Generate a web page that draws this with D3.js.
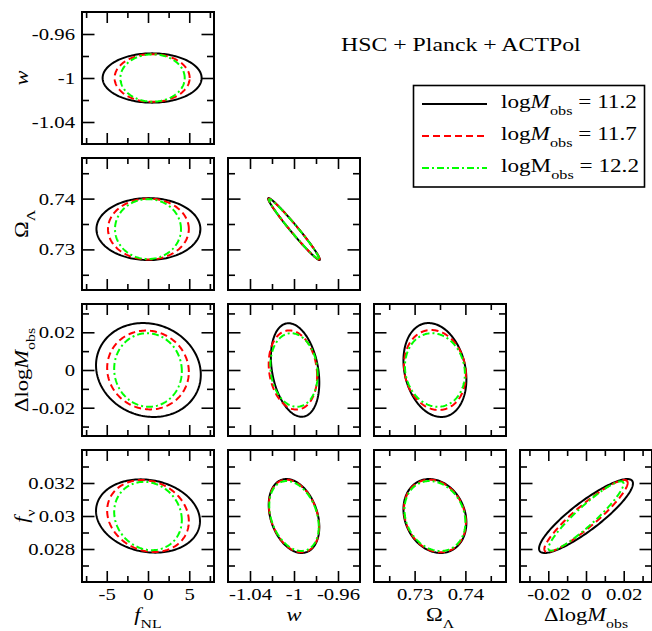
<!DOCTYPE html>
<html>
<head>
<meta charset="utf-8">
<title>HSC + Planck + ACTPol</title>
<script src="https://cdn.jsdelivr.net/npm/d3@7"></script>
<style>
  html, body { margin: 0; padding: 0; background: #fff; }
  svg { display: block; }
  text { font-family: "Liberation Serif", "Times New Roman", serif; fill: #000; }
</style>
</head>
<body>
<svg id="chart" width="652" height="631"></svg>
<script>
// Parameter order: f_NL, w, Omega_Lambda, DeltalogM_obs, f_nu
var paramDomains = [[-8, 8], [-1.06, -0.94], [0.722, 0.748], [-0.035, 0.035], [0.026, 0.034]];
var majorTicks = [[-5, 0, 5], [-1.04, -1, -0.96], [0.73, 0.74], [-0.02, 0, 0.02], [0.028, 0.03, 0.032]];
var minorTicks = [[-7.5, -2.5, 2.5, 7.5], [-1.02, -0.98], [0.725, 0.735, 0.745],
                  [-0.03, -0.01, 0.01, 0.03], [0.027, 0.029, 0.031, 0.033]];
var tickLabels = [['-5', '0', '5'], ['-1.04', '-1', '-0.96'], ['0.73', '0.74'],
                  ['-0.02', '0', '0.02'], ['0.028', '0.03', '0.032']];

// axis titles as [text, style] pieces: i = italic, s = subscript
var axisTitles = [
    [['f', 'i'], ['NL', 's']],
    [['w', 'i']],
    [['\u03a9', ''], ['\u039b', 's']],
    [['\u0394log', ''], ['M', 'i'], ['obs', 's']],
    [['f', 'i'], ['\u03bd', 's']]
];

// triangle panels: [x parameter, y parameter]
var panels = [[0, 1], [0, 2], [1, 2], [0, 3], [1, 3], [2, 3], [0, 4], [1, 4], [2, 4], [3, 4]];

// contours per panel: [x centre, y centre, x half-width, y half-height, correlation]
var ellM112 = [
    [0.5, -1, 6.0, 0.0224, 0],
    [0.05, 0.734, 6.3, 0.0061, 0],
    [-1, 0.734, 0.0235, 0.0061, -0.982],
    [0.05, 0, 6.35, 0.0249, -0.1],
    [-0.999, 0, 0.022, 0.0248, -0.27],
    [0.734, 0, 0.0062, 0.0249, -0.2],
    [0, 0.03, 6.3, 0.00222, -0.14],
    [-1, 0.03, 0.023, 0.00224, -0.3],
    [0.734, 0.03, 0.0062, 0.00224, -0.18],
    [0, 0.03, 0.0249, 0.00224, 0.88]
];
var ellM117 = [
    [0.5, -1, 4.55, 0.0217, 0],
    [0.05, 0.734, 4.9, 0.006, 0],
    [-1, 0.734, 0.0232, 0.006, -0.982],
    [0, 0, 4.95, 0.0209, -0.05],
    [-1.001, 0, 0.022, 0.021, -0.15],
    [0.734, 0, 0.0061, 0.0212, -0.12],
    [0, 0.03, 4.95, 0.00218, -0.15],
    [-1, 0.03, 0.0228, 0.0022, -0.3],
    [0.734, 0.03, 0.0061, 0.0022, -0.18],
    [0, 0.03, 0.0221, 0.00218, 0.92]
];
var ellM122 = [
    [0.55, -1, 3.9, 0.0215, 0],
    [0, 0.734, 4.0, 0.0059, 0],
    [-1, 0.734, 0.0228, 0.0059, -0.982],
    [0, 0, 4.1, 0.0195, -0.03],
    [-1, 0, 0.0215, 0.0195, -0.12],
    [0.734, 0, 0.0059, 0.0195, -0.1],
    [0, 0.03, 4.1, 0.00207, -0.12],
    [-1, 0.03, 0.0225, 0.00212, -0.3],
    [0.734, 0.03, 0.006, 0.00212, -0.18],
    [0, 0.03, 0.0199, 0.0021, 0.93]
];

var seriesValues = ['11.2', '11.7', '12.2'];
var seriesColors = ['#000000', '#ff0000', '#00ff00'];
var seriesDashes = [null, '7,4', '7,3,2,3'];
var seriesItalicM = [true, true, false];
var seriesContours = [ellM112, ellM117, ellM122];

var titleText = 'HSC + Planck + ACTPol';

(function () {
    'use strict';

    var SIZE = 132, PITCH = 146, LEFT = 82, TOP = 12;
    var STRETCH = 1.22;           // the original font is wider than Times
    var V_TICK = [11, 6], H_TICK = [12.5, 7];

    var svg = d3.select('#chart');

    function addParts(text, parts, size) {
        var shift = 0;
        parts.forEach(function (p) {
            var t = text.append('tspan').text(p[0]);
            var want = p[1] === 's' ? size * 0.38 : 0;
            if (want !== shift) {
                t.attr('dy', want - shift);
                shift = want;
            }
            if (p[1] === 's') t.attr('font-size', size * 0.7);
            if (p[1] === 'i') t.attr('font-style', 'italic');
        });
        return text;
    }

    function wideText(parent, x, y, size, anchor, rotate) {
        return parent.append('text')
            .attr('transform', 'translate(' + x + ',' + y + ')' + (rotate ? ' rotate(-90)' : '') +
                  ' scale(' + STRETCH + ',1)')
            .attr('font-size', size)
            .attr('text-anchor', anchor);
    }

    function ellipsePoints(e) {
        var k = Math.sqrt(1 - e[4] * e[4]);
        return d3.range(0, 181).map(function (i) {
            var t = i / 180 * 2 * Math.PI;
            return [e[0] + e[2] * Math.cos(t), e[1] + e[3] * (e[4] * Math.cos(t) + k * Math.sin(t))];
        });
    }

    function drawSide(g, axisFn, scale, param, at, len, showLabels) {
        var major = axisFn(scale).tickValues(majorTicks[param]).tickSize(-len[0]).tickSizeOuter(0)
            .tickFormat(function (d, i) { return showLabels ? tickLabels[param][i] : ''; });
        var minor = axisFn(scale).tickValues(minorTicks[param]).tickSize(-len[1]).tickSizeOuter(0)
            .tickFormat('');
        [major, minor].forEach(function (ax) {
            var a = g.append('g').attr('transform', 'translate(' + at[0] + ',' + at[1] + ')').call(ax);
            a.select('.domain').remove();
            a.attr('font-family', null).attr('font-size', null);
            a.selectAll('.tick line').attr('stroke', '#000').attr('stroke-width', 1.6);
            a.selectAll('.tick text').attr('font-size', 17).attr('fill', '#000')
                .attr('transform', 'scale(' + STRETCH + ',1)');
        });
    }

    panels.forEach(function (p, i) {
        var col = p[0], row = p[1] - 1;
        var g = svg.append('g')
            .attr('transform', 'translate(' + (LEFT + col * PITCH) + ',' + (TOP + row * PITCH) + ')');

        var x = d3.scaleLinear().domain(paramDomains[p[0]]).range([0, SIZE]);
        var y = d3.scaleLinear().domain(paramDomains[p[1]]).range([SIZE, 0]);

        drawSide(g, d3.axisBottom, x, p[0], [0, SIZE], V_TICK, row === 3);
        drawSide(g, d3.axisTop, x, p[0], [0, 0], V_TICK, false);
        drawSide(g, d3.axisLeft, y, p[1], [0, 0], H_TICK, col === 0);
        drawSide(g, d3.axisRight, y, p[1], [SIZE, 0], H_TICK, false);

        // place tick labels like the original
        g.selectAll('.tick text').each(function () {
            var t = d3.select(this);
            if (t.text() === '') return;
            if (t.attr('dy') === '0.71em') t.attr('y', 18).attr('dy', null);
            else t.attr('x', -7 / STRETCH);
        });

        g.append('rect')
            .attr('width', SIZE).attr('height', SIZE)
            .attr('fill', 'none').attr('stroke', '#000').attr('stroke-width', 2);

        var line = d3.line()
            .x(function (d) { return x(d[0]); })
            .y(function (d) { return y(d[1]); })
            .curve(d3.curveLinearClosed);

        seriesContours.forEach(function (contours, s) {
            g.append('path')
                .attr('d', line(ellipsePoints(contours[i])))
                .attr('fill', 'none')
                .attr('stroke', seriesColors[s])
                .attr('stroke-width', 2)
                .attr('stroke-dasharray', seriesDashes[s]);
        });
    });

    // axis titles
    [0, 1, 2, 3].forEach(function (c) {
        addParts(wideText(svg, LEFT + c * PITCH + SIZE / 2, 621, 18.5, 'middle', false), axisTitles[c], 18.5);
    });
    [1, 2, 3, 4].forEach(function (r) {
        addParts(wideText(svg, 28, TOP + (r - 1) * PITCH + SIZE / 2, 18.5, 'middle', true), axisTitles[r], 18.5);
    });

    // title
    wideText(svg, 341, 51, 19.5, 'start', false).text(titleText);

    // legend
    var legend = svg.append('g');
    legend.append('rect')
        .attr('x', 413.5).attr('y', 85.5).attr('width', 231).attr('height', 101.5)
        .attr('fill', '#fff').attr('stroke', '#000').attr('stroke-width', 1.6);
    var ly = d3.scalePoint().domain(seriesValues).range([104, 168]);
    seriesValues.forEach(function (v, s) {
        legend.append('line')
            .attr('x1', 422).attr('x2', 487)
            .attr('y1', ly(v)).attr('y2', ly(v))
            .attr('stroke', seriesColors[s]).attr('stroke-width', 2)
            .attr('stroke-dasharray', seriesDashes[s]);
        addParts(wideText(legend, 501, ly(v) + 4, 19, 'start', false),
            [['log', ''], ['M', seriesItalicM[s] ? 'i' : ''], ['obs', 's'], ['\u00a0=\u00a0' + v, '']], 19);
    });
})();
</script>
</body>
</html>
